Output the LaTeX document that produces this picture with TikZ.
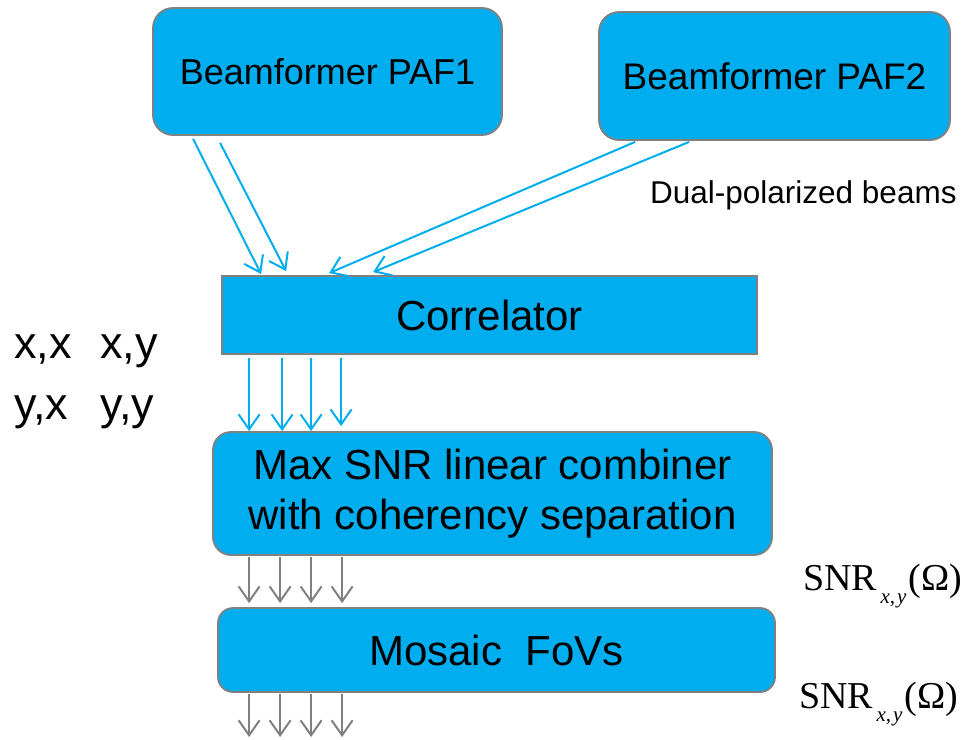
\documentclass[tikz,border=0pt]{standalone}
\usepackage{fontspec}
\setmainfont{Liberation Sans}
\newfontfamily\serifface{Liberation Serif}
\usetikzlibrary{arrows.meta,calc}
\definecolor{boxcyan}{RGB}{0,174,239}
\definecolor{edgegray}{RGB}{128,128,128}
\tikzset{
  block/.style={draw=edgegray, line width=1.8pt, fill=boxcyan, text=black,
    inner sep=0pt, align=center},
  roundblock/.style={block, rounded corners=20pt},
  flowtip/.style={-{Straight Barb[length=15pt,width=21pt,line width=2pt]}},
  cyanflow/.style={flowtip, draw=boxcyan, line width=2pt},
  grayflow/.style={flowtip, draw=edgegray, line width=2pt},
  sidelabel/.style={anchor=base west, inner sep=0pt, font=\fontsize{45}{54}\selectfont},
}
\newcommand{\snrlabel}{{\serifface\fontsize{38}{40}\selectfont SNR\raisebox{-13pt}{\fontsize{21}{24}\selectfont\itshape\,x,\hspace{2pt}y}\hspace{2pt}(\symbol{"03A9})}}
\begin{document}
\begin{tikzpicture}[x=1pt,y=-1pt]
  \useasboundingbox (0,0) rectangle (963,739);

  % processing blocks
  \node[roundblock, minimum width=349pt, minimum height=127pt,
        font=\fontsize{36}{40}\selectfont] (paf1) at (327.5,71.5) {Beamformer PAF1};
  \node[roundblock, minimum width=351pt, minimum height=128pt,
        font=\fontsize{37}{40}\selectfont] (paf2) at (774.5,76) {Beamformer PAF2};
  \node[block, minimum width=535pt, minimum height=78pt,
        font=\fontsize{42}{46}\selectfont] (corr) at (489.5,315) {Correlator};
  \node[roundblock, rounded corners=18pt, minimum width=559pt, minimum height=123pt,
        font=\fontsize{42}{50}\selectfont] (comb) at (492.5,493.5)
        {Max SNR linear combiner\\with coherency separation};
  \node[roundblock, rounded corners=15pt, minimum width=557pt, minimum height=84pt,
        font=\fontsize{42}{46}\selectfont] (mos) at (496.5,650) {Mosaic\ \ FoVs};

  % beams from the two beamformers into the correlator
  \draw[cyanflow] ([xshift=41pt,yshift=-3pt]paf1.south west)
      -- ([xshift=40pt,yshift=1pt]corr.north west);
  \draw[cyanflow] ([xshift=68pt,yshift=-7pt]paf1.south west)
      -- ([xshift=65pt,yshift=4pt]corr.north west);
  \draw[cyanflow] ([xshift=37pt,yshift=-1pt]paf2.south west)
      -- ([xshift=108pt,yshift=2pt]corr.north west);
  \draw[cyanflow] ([xshift=91pt,yshift=-1pt]paf2.south west)
      -- ([xshift=152pt,yshift=3pt]corr.north west);

  % correlation products into the combiner
  \foreach \dx/\gap in {28/0,61/0,90/0,120/5}
    \draw[cyanflow] ([xshift=\dx pt,yshift=-3pt]corr.south west) coordinate (s)
      -- ([yshift=\gap pt]s |- comb.north);

  % combiner outputs into the mosaic
  \foreach \dx in {37,68,99,130}
    \draw[grayflow] ([xshift=\dx pt,yshift=-1pt]comb.south west) coordinate (s)
      -- ([yshift=4pt]s |- mos.north);

  % mosaic outputs
  \coordinate (outbase) at (0,737);
  \foreach \dx in {32,63,94,125}
    \draw[grayflow] ([xshift=\dx pt,yshift=-1pt]mos.south west) coordinate (s)
      -- (s |- outbase);

  % annotations
  \node[anchor=base west, inner sep=0pt, font=\fontsize{31.5}{34}\selectfont]
    (dual) at (650,203) {Dual-polarized beams};
  \node[sidelabel] (xrow) at (14,358) {\makebox[86pt][l]{x,x}x,y};
  \node[sidelabel] (yrow) at (14,419) {\makebox[86pt][l]{y,x}y,y};
  \node[anchor=base west, inner sep=0pt] (snr1) at (803,590) {\snrlabel};
  \node[anchor=base west, inner sep=0pt] (snr2) at (799,708) {\snrlabel};
\end{tikzpicture}
\end{document}
